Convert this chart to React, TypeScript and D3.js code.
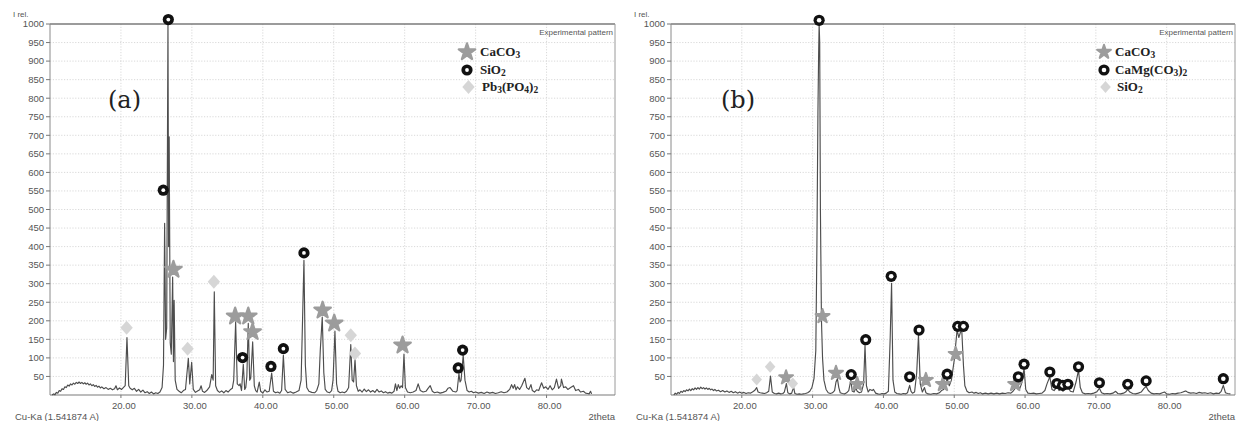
import React from "react";
import * as d3 from "d3";

// ---------- data ----------
const X_TICKS = [20, 30, 40, 50, 60, 70, 80];
const Y_TICKS = [50, 100, 150, 200, 250, 300, 350, 400, 450, 500, 550, 600, 650, 700, 750, 800, 850, 900, 950, 1000];

// panel (a) experimental pattern: [2theta, I rel.]
const patternA: [number, number][] = [
  [10.3, 0], [10.5, 3], [10.7, 1], [10.9, 7], [11.1, 5], [11.3, 12], [11.5, 10], [11.7, 17], [11.9, 15], [12.1, 22], [12.3, 20], [12.5, 27], [12.7, 24], [12.9, 30], [13.1, 27], [13.3, 32], [13.5, 29], [13.7, 34], [13.9, 31], [14.1, 35], [14.3, 31], [14.5, 34], [14.7, 30], [14.9, 33], [15.1, 29], [15.3, 32], [15.5, 27], [15.7, 30], [15.9, 25], [16.1, 28], [16.3, 23], [16.5, 26], [16.7, 21], [16.9, 24], [17.1, 19], [17.3, 22], [17.6, 17], [17.9, 20], [18.2, 15], [18.5, 18], [18.8, 14], [19.1, 17], [19.3, 25], [19.5, 14], [19.8, 19], [20.1, 15], [20.4, 21], [20.6, 25], [20.85, 155], [21.1, 25], [21.3, 18], [21.6, 14], [21.9, 18], [22.2, 10], [22.5, 15], [22.8, 8], [23.1, 13], [23.4, 6], [23.7, 9], [24.0, 4], [24.3, 8], [24.6, 3], [24.9, 6], [25.2, 4], [25.5, 8], [25.8, 20], [26.0, 80], [26.16, 463], [26.3, 150], [26.45, 180], [26.63, 1000], [26.72, 400], [26.8, 696], [26.95, 140], [27.1, 110], [27.29, 318], [27.4, 90], [27.5, 255], [27.65, 40], [27.9, 15], [28.2, 10], [28.5, 6], [28.8, 12], [29.1, 15], [29.5, 99], [29.7, 30], [29.97, 88], [30.2, 15], [30.5, 7], [30.8, 11], [31.1, 14], [31.3, 25], [31.5, 10], [31.8, 7], [32.1, 12], [32.5, 22], [32.8, 55], [33.0, 40], [33.16, 278], [33.35, 25], [33.6, 12], [33.9, 7], [34.2, 11], [34.5, 6], [34.8, 12], [35.1, 8], [35.4, 14], [35.7, 18], [35.9, 40], [36.17, 197], [36.4, 30], [36.65, 25], [36.8, 30], [37.0, 12], [37.25, 83], [37.45, 15], [37.6, 20], [37.75, 50], [37.95, 193], [38.15, 40], [38.3, 45], [38.57, 143], [38.8, 25], [39.0, 12], [39.2, 8], [39.5, 35], [39.7, 10], [40.0, 5], [40.3, 14], [40.6, 8], [40.9, 10], [41.25, 59], [41.5, 10], [41.8, 6], [42.1, 8], [42.4, 5], [42.65, 12], [42.9, 107], [43.15, 15], [43.5, 6], [43.9, 9], [44.3, 5], [44.7, 8], [45.1, 12], [45.4, 40], [45.6, 200], [45.8, 363], [46.0, 80], [46.2, 20], [46.5, 10], [46.9, 7], [47.3, 6], [47.6, 12], [47.9, 30], [48.1, 120], [48.38, 210], [48.6, 60], [48.8, 15], [49.1, 8], [49.4, 6], [49.7, 12], [49.9, 40], [50.17, 172], [50.4, 30], [50.6, 10], [50.9, 6], [51.2, 8], [51.5, 6], [51.8, 10], [52.1, 20], [52.4, 136], [52.6, 40], [52.8, 35], [53.0, 96], [53.2, 25], [53.45, 10], [53.7, 14], [54.0, 8], [54.3, 16], [54.6, 9], [54.9, 14], [55.2, 8], [55.5, 12], [55.8, 7], [56.1, 15], [56.4, 8], [56.7, 11], [57.0, 6], [57.3, 9], [57.6, 5], [57.9, 7], [58.2, 5], [58.5, 10], [58.7, 30], [58.9, 12], [59.1, 28], [59.3, 18], [59.5, 25], [59.7, 20], [59.9, 110], [60.1, 20], [60.4, 8], [60.8, 6], [61.2, 8], [61.6, 12], [61.9, 30], [62.2, 12], [62.6, 8], [63.0, 10], [63.3, 18], [63.6, 25], [63.9, 10], [64.2, 6], [64.6, 8], [65.0, 5], [65.4, 7], [65.8, 10], [66.1, 18], [66.4, 20], [66.8, 10], [67.2, 8], [67.4, 12], [67.65, 58], [67.8, 35], [67.95, 40], [68.25, 107], [68.5, 40], [68.8, 12], [69.1, 8], [69.4, 10], [69.7, 6], [70.0, 8], [70.4, 5], [70.8, 7], [71.2, 4], [71.6, 8], [72.0, 5], [72.4, 7], [72.8, 4], [73.2, 6], [73.6, 9], [74.0, 6], [74.4, 8], [74.8, 15], [75.07, 28], [75.3, 18], [75.5, 28], [75.7, 14], [75.9, 22], [76.2, 15], [76.5, 25], [76.95, 45], [77.2, 20], [77.5, 15], [77.8, 28], [78.0, 12], [78.3, 8], [78.6, 14], [78.9, 12], [79.3, 33], [79.6, 18], [79.9, 22], [80.2, 15], [80.5, 25], [80.8, 14], [81.1, 20], [81.4, 43], [81.7, 18], [82.0, 25], [82.1, 43], [82.4, 20], [82.7, 22], [83.0, 15], [83.4, 20], [83.8, 25], [84.1, 12], [84.5, 15], [84.8, 8], [85.2, 10], [85.5, 5], [85.8, 4], [86.0, 3], [86.2, 10], [86.35, 3],
];

// panel (a) phase marks
const caco3A: [number, number][] = [[27.4, 338], [36.1, 212], [37.95, 212], [38.56, 170], [48.43, 228], [50.07, 193], [59.7, 134]];
const sio2A: [number, number][] = [[26.68, 1012], [25.97, 552], [37.15, 101], [41.15, 77], [42.9, 125], [45.8, 383], [67.55, 73], [68.17, 121]];
const pb3po4A: [number, number][] = [[20.8, 181], [29.4, 125], [33.1, 305], [52.4, 161], [52.99, 112]];

// panel (b) experimental pattern
const patternB: [number, number][] = [
  [10.4, 0], [10.6, 5], [10.8, 2], [11.0, 7], [11.2, 4], [11.4, 10], [11.6, 7], [11.8, 12], [12.0, 9], [12.2, 14], [12.4, 11], [12.6, 16], [12.8, 12], [13.0, 17], [13.2, 14], [13.4, 19], [13.6, 15], [13.8, 20], [14.0, 16], [14.2, 21], [14.4, 17], [14.6, 20], [14.8, 16], [15.0, 19], [15.2, 15], [15.4, 18], [15.6, 14], [15.8, 16], [16.0, 12], [16.2, 15], [16.4, 11], [16.7, 13], [17.0, 9], [17.3, 12], [17.6, 8], [17.9, 11], [18.2, 7], [18.5, 10], [18.8, 6], [19.1, 9], [19.4, 5], [19.7, 8], [20.0, 5], [20.3, 7], [20.6, 4], [20.9, 6], [21.2, 5], [21.5, 8], [21.8, 12], [22.1, 20], [22.3, 8], [22.6, 6], [22.9, 5], [23.2, 4], [23.5, 6], [23.8, 10], [24.05, 51], [24.3, 8], [24.6, 4], [24.9, 3], [25.2, 5], [25.5, 3], [25.8, 4], [26.0, 8], [26.3, 31], [26.5, 6], [26.8, 3], [27.05, 5], [27.3, 22], [27.5, 4], [27.8, 2], [28.1, 3], [28.4, 2], [28.7, 3], [29.0, 4], [29.3, 6], [29.6, 10], [29.9, 20], [30.2, 45], [30.45, 120], [30.6, 390], [30.75, 760], [30.85, 920], [30.92, 1000], [31.0, 950], [31.1, 500], [31.25, 200], [31.4, 100], [31.6, 40], [31.9, 15], [32.2, 6], [32.5, 4], [32.8, 6], [33.1, 12], [33.3, 35], [33.5, 44], [33.7, 20], [33.9, 6], [34.2, 4], [34.5, 3], [34.8, 6], [35.1, 12], [35.4, 40], [35.6, 10], [35.85, 8], [36.1, 18], [36.3, 10], [36.6, 6], [36.9, 8], [37.2, 30], [37.4, 134], [37.6, 25], [37.85, 8], [38.1, 15], [38.4, 12], [38.6, 15], [38.9, 5], [39.2, 3], [39.5, 2], [39.8, 4], [40.1, 3], [40.4, 5], [40.7, 10], [40.95, 150], [41.15, 301], [41.35, 40], [41.6, 8], [41.9, 4], [42.2, 3], [42.5, 2], [42.8, 4], [43.1, 3], [43.4, 6], [43.7, 26], [43.9, 10], [44.1, 5], [44.4, 8], [44.7, 60], [44.95, 161], [45.2, 30], [45.5, 8], [45.8, 20], [46.0, 6], [46.3, 3], [46.7, 2], [47.1, 4], [47.5, 3], [47.9, 6], [48.2, 12], [48.5, 15], [48.8, 30], [49.0, 44], [49.3, 25], [49.6, 40], [50.0, 94], [50.4, 175], [50.65, 155], [51.05, 180], [51.3, 80], [51.5, 25], [51.8, 10], [52.1, 6], [52.5, 8], [52.8, 5], [53.1, 7], [53.4, 4], [53.7, 6], [54.0, 3], [54.4, 5], [54.8, 3], [55.2, 5], [55.6, 3], [56.0, 5], [56.4, 3], [56.8, 5], [57.2, 4], [57.6, 6], [58.0, 5], [58.3, 10], [58.6, 18], [58.9, 35], [59.2, 15], [59.5, 30], [59.86, 72], [60.1, 15], [60.4, 5], [60.8, 4], [61.2, 5], [61.6, 3], [62.0, 4], [62.4, 5], [62.8, 12], [63.1, 30], [63.5, 49], [63.8, 15], [64.1, 12], [64.5, 22], [64.8, 12], [65.1, 18], [65.35, 10], [65.6, 15], [66.05, 22], [66.4, 10], [66.8, 8], [67.2, 35], [67.55, 67], [67.8, 20], [68.1, 6], [68.5, 3], [68.9, 4], [69.3, 3], [69.7, 5], [70.1, 8], [70.5, 18], [70.8, 6], [71.2, 3], [71.6, 4], [72.0, 3], [72.4, 5], [72.8, 10], [73.1, 4], [73.5, 3], [73.9, 5], [74.2, 8], [74.5, 15], [74.8, 8], [75.2, 4], [75.6, 3], [76.0, 5], [76.4, 8], [76.8, 18], [77.1, 23], [77.4, 12], [77.8, 5], [78.2, 3], [78.6, 4], [79.0, 3], [79.4, 6], [79.7, 8], [80.0, 3], [80.4, 2], [80.8, 4], [81.2, 3], [81.6, 5], [82.0, 6], [82.4, 9], [82.7, 11], [83.0, 7], [83.4, 5], [83.8, 6], [84.2, 4], [84.6, 7], [85.0, 5], [85.4, 6], [85.8, 4], [86.2, 6], [86.6, 3], [87.0, 5], [87.4, 4], [87.7, 10], [88.0, 26], [88.3, 6], [88.6, 4], [89.0, 3],
];

const caco3B: [number, number][] = [[26.25, 47], [31.4, 212], [33.3, 59], [36.3, 29], [46.0, 40], [48.4, 29], [50.2, 110], [58.6, 29]];
const camgB: [number, number][] = [[30.92, 1010], [35.45, 55], [37.5, 149], [41.1, 320], [43.7, 49], [45.03, 175], [49.0, 56], [50.5, 185], [51.3, 185], [59.05, 49], [59.86, 83], [63.5, 62], [64.5, 31], [65.3, 26], [66.05, 29], [67.55, 76], [70.5, 33], [74.5, 29], [77.1, 38], [88.0, 44]];
const sio2B: [number, number][] = [[22.1, 42], [24.0, 76], [27.2, 31]];

// ---------- drawing ----------
type Kind = "star" | "ring" | "diamond";
const COLORS: Record<Kind, string> = { star: "#9c9c9c", ring: "#111", diamond: "#d6d6d6" };
const starPath = d3.symbol().type(d3.symbolStar).size(85)()!;
const starSmall = d3.symbol().type(d3.symbolStar).size(60)()!;
const diamondPath = "M0,-7L6.2,0L0,7L-6.2,0Z";
const diamondSmall = "M0,-6L5.3,0L0,6L-5.3,0Z";

function Marker({ kind, x, y, small }: { kind: Kind; x: number; y: number; small?: boolean }) {
  if (kind === "ring") {
    return (
      <g transform={`translate(${x},${y})`}>
        <circle r={5.6} fill={COLORS.ring} />
        <circle r={small ? 2.3 : 1.9} fill="#fff" />
      </g>
    );
  }
  if (kind === "star") {
    return <path d={small ? starSmall : starPath} transform={`translate(${x},${y})`} fill={COLORS.star} stroke={COLORS.star} strokeWidth={small ? 2 : 2.2} strokeLinejoin="round" />;
  }
  return <path d={small ? diamondSmall : diamondPath} transform={`translate(${x},${y})`} fill={COLORS.diamond} />;
}

type Phase = { kind: Kind; pts: [number, number][]; label: React.ReactNode };

function Formula({ parts }: { parts: [string, boolean][] }) {
  let shift = 0;
  return (
    <>
      {parts.map(([s, sub], i) => {
        const target = sub ? 2 : 0;
        const dy = target - shift;
        shift = target;
        return (
          <tspan key={i} fontSize={sub ? 9.5 : 13} dy={dy}>{s}</tspan>
        );
      })}
    </>
  );
}

function Panel({ x0, x1, tag, tagX, pattern, phases, legendX, legendTextX, small }: {
  x0: number; x1: number; tag: string; tagX: number; pattern: [number, number][]; phases: Phase[];
  legendX: number; legendTextX: number; small?: boolean;
}) {
  const y0 = 24, y1 = 395;
  const x = d3.scaleLinear().domain([10, 89.65]).range([x0, x1]);
  const y = d3.scaleLinear().domain([0, 1000]).range([y1, y0]);
  const line = d3.line<[number, number]>().x((d) => x(d[0])).y((d) => y(d[1]));
  const tickFont = { fontFamily: "'Liberation Sans', Arial, sans-serif", fontSize: 9.5, fill: "#555" };
  const legendY = [52, 70, 87];
  return (
    <g>
      {Y_TICKS.slice(0, -1).map((t) => (
        <line key={"gy" + t} x1={x0} x2={x1} y1={y(t)} y2={y(t)} stroke="#cfcfcf" strokeWidth={0.8} strokeDasharray="1.2,1.6" />
      ))}
      {X_TICKS.map((t) => (
        <line key={"gx" + t} x1={x(t)} x2={x(t)} y1={y0} y2={y1} stroke="#cfcfcf" strokeWidth={0.8} strokeDasharray="1.2,1.6" />
      ))}
      <line x1={x0} x2={x1} y1={y0} y2={y0} stroke="#7a7a7a" strokeWidth={1.3} />
      <line x1={x1} x2={x1} y1={y0} y2={y1} stroke="#9a9a9a" strokeWidth={1} />
      <line x1={x0} x2={x0} y1={y0} y2={y1} stroke="#8a8a8a" strokeWidth={1} />
      <line x1={x0} x2={x1} y1={y1} y2={y1} stroke="#7a7a7a" strokeWidth={1.2} />
      {Y_TICKS.map((t) => (
        <g key={"ty" + t}>
          <line x1={x0 - 4} x2={x0} y1={y(t)} y2={y(t)} stroke="#777" />
          <text x={x0 - 6} y={y(t) + 3.3} textAnchor="end" {...tickFont}>{t}</text>
        </g>
      ))}
      {X_TICKS.map((t) => (
        <g key={"tx" + t}>
          <line x1={x(t)} x2={x(t)} y1={y1} y2={y1 + 3} stroke="#777" />
          <text x={x(t) + 3} y={y1 + 14} textAnchor="middle" {...tickFont}>{d3.format(".2f")(t)}</text>
        </g>
      ))}
      <text x={x0 - 37} y={17} {...tickFont} fontSize={8}>I rel.</text>
      <text x={x0 - 35} y={420} {...tickFont} fontSize={9.5}>Cu-Ka (1.541874 A)</text>
      <text x={x1} y={420} textAnchor="end" {...tickFont} fontSize={9.5}>2theta</text>
      <text x={x1 - 2} y={35} textAnchor="end" {...tickFont} fontSize={8}>Experimental pattern</text>
      <path d={line(pattern) || ""} fill="none" stroke="#4d4d4d" strokeWidth={1.15} strokeLinejoin="round" />
      {phases.map((p, i) => (
        <g key={"ph" + i}>
          {p.pts.map(([t, v], j) => (
            <Marker key={j} kind={p.kind} x={x(t)} y={y(v)} small={small} />
          ))}
        </g>
      ))}
      {phases.map((p, i) => (
        <g key={"lg" + i}>
          <Marker kind={p.kind} x={legendX + (p.kind === "diamond" ? 1.5 : 0)} y={legendY[i]} small={small} />
          <text x={legendTextX + (p.kind === "diamond" ? 2 : 0)} y={legendY[i] + 4} fontFamily="'Liberation Serif', 'Times New Roman', serif" fontWeight="bold" fill="#222" fontSize={13}>
            {p.label}
          </text>
        </g>
      ))}
      <text x={tagX} y={108} fontFamily="'DejaVu Serif', 'Liberation Serif', serif" fontSize={24} fill="#222">{tag}</text>
    </g>
  );
}

export default function App() {
  const phasesA: Phase[] = [
    { kind: "star", pts: caco3A, label: <Formula parts={[["CaCO", false], ["3", true]]} /> },
    { kind: "ring", pts: sio2A, label: <Formula parts={[["SiO", false], ["2", true]]} /> },
    { kind: "diamond", pts: pb3po4A, label: <Formula parts={[["Pb", false], ["3", true], ["(PO", false], ["4", true], [")", false], ["2", true]]} /> },
  ];
  const phasesB: Phase[] = [
    { kind: "star", pts: caco3B, label: <Formula parts={[["CaCO", false], ["3", true]]} /> },
    { kind: "ring", pts: camgB, label: <Formula parts={[["CaMg(CO", false], ["3", true], [")", false], ["2", true]]} /> },
    { kind: "diamond", pts: sio2B, label: <Formula parts={[["SiO", false], ["2", true]]} /> },
  ];
  return (
    <svg width={1237} height={421} style={{ position: "absolute", left: 0, top: 0, background: "#fff" }}>
      <rect width={1237} height={421} fill="#fff" />
      <Panel x0={50} x1={615} tag="(a)" tagX={108} pattern={patternA} phases={phasesA} legendX={467} legendTextX={480} />
      <Panel x0={671} x1={1235} tag="(b)" tagX={721} pattern={patternB} phases={phasesB} legendX={1104} legendTextX={1115} small />
    </svg>
  );
}
